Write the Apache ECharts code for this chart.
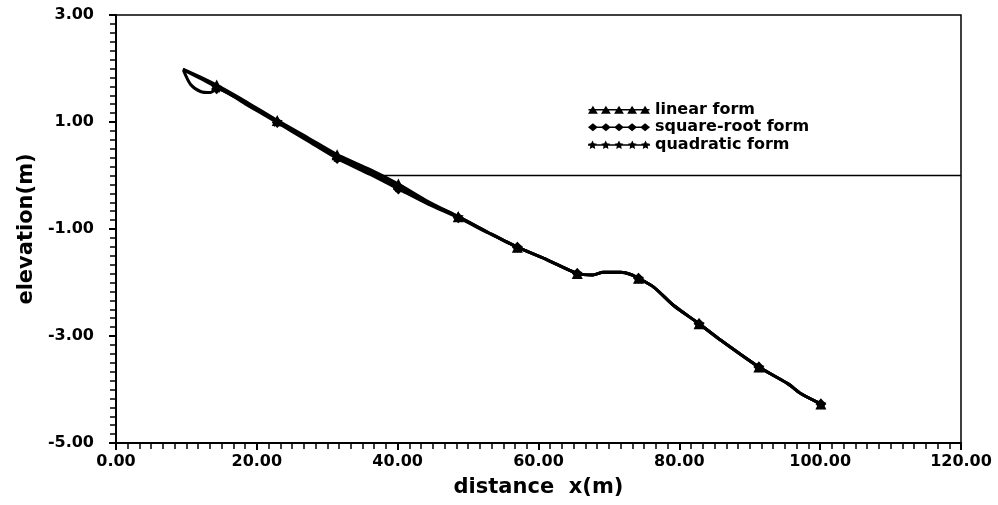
<!DOCTYPE html>
<html>
<head>
<meta charset="utf-8">
<script src="https://cdn.jsdelivr.net/npm/echarts@6/dist/echarts.min.js"></script>
<style>html,body{margin:0;padding:0;background:#fff;}#chart{width:998px;height:505px;}</style>
</head>
<body>
<div id="chart"></div>
<script>
// ---- data ----
const seriesNames = ['linear form', 'square-root form', 'quadratic form'];
const xTicks = [0, 20, 40, 60, 80, 100, 120];
const yTicks = [-5, -3, -1, 1, 3];
const markerX = [14.3, 22.9, 31.4, 40.1, 48.6, 57.0, 65.5, 74.2, 82.8, 91.3, 100.1];

const linearX = [9.5, 12.0, 14.3, 18.6, 22.9, 27.2, 31.4, 36.1, 40.1, 44.4, 48.6, 52.8, 57.0, 61.3, 65.5, 67.7, 69.2, 71.7, 73.1, 74.2, 76.4, 79.2, 82.8, 85.9, 91.3, 95.4, 97.3, 100.1];
const linearY = [1.99, 1.84, 1.69, 1.37, 1.03, 0.71, 0.39, 0.11, -0.16, -0.49, -0.77, -1.06, -1.34, -1.58, -1.83, -1.86, -1.81, -1.81, -1.85, -1.92, -2.09, -2.43, -2.77, -3.08, -3.58, -3.89, -4.08, -4.27];

const sqrtX = [9.6, 10.6, 12.0, 13.4, 14.3, 18.6, 22.9, 27.2, 31.4, 36.1, 40.1, 44.4, 48.6, 52.8, 57.0, 61.3, 65.5, 67.7, 69.2, 71.7, 73.1, 74.2, 76.4, 79.2, 82.8, 85.9, 91.3, 95.4, 97.3, 100.1];
const sqrtY = [1.96, 1.70, 1.57, 1.55, 1.62, 1.32, 0.99, 0.65, 0.32, 0.02, -0.25, -0.54, -0.79, -1.07, -1.34, -1.58, -1.83, -1.86, -1.81, -1.81, -1.85, -1.92, -2.09, -2.43, -2.77, -3.08, -3.58, -3.89, -4.08, -4.27];

const quadX = [9.5, 12.2, 14.3, 18.6, 22.9, 27.2, 31.4, 36.1, 40.1, 44.4, 48.6, 52.8, 57.0, 61.3, 65.5, 67.7, 69.2, 71.7, 73.1, 74.2, 76.4, 79.2, 82.8, 85.9, 91.3, 95.4, 97.3, 100.1];
const quadY = [1.98, 1.80, 1.65, 1.34, 1.01, 0.67, 0.35, 0.06, -0.21, -0.51, -0.77, -1.06, -1.34, -1.58, -1.83, -1.86, -1.81, -1.81, -1.85, -1.92, -2.09, -2.43, -2.77, -3.08, -3.58, -3.89, -4.08, -4.27];

const waterX = [36.8, 120];
const waterY = [0, 0];

// ---- building the chart ----
const zip = (xs, ys) => xs.map((x, i) => [x, ys[i]]);
const markerSet = new Set(markerX);

const starPath = (cx, cy, r) => {
  let d = '';
  for (let i = 0; i < 10; i++) {
    const a = -Math.PI / 2 + i * Math.PI / 5;
    const rr = i % 2 === 0 ? r : r * 0.5;
    d += (i === 0 ? 'M' : 'L') + (cx + rr * Math.cos(a)).toFixed(1) + ' ' + (cy + rr * Math.sin(a)).toFixed(1);
  }
  return d + 'Z';
};
const centers = [45, 177, 310, 443, 575];
const rowIcon = (shape) => 'path://M0 32L620 32L620 48L0 48Z' + centers.map(shape).join('');
const triShape = cx => `M${cx - 50} 80L${cx} 0L${cx + 50} 80Z`;
const diaShape = cx => `M${cx - 50} 40L${cx} 0L${cx + 50} 40L${cx} 80Z`;
const starShape = cx => starPath(cx, 42, 46);
const starSymbol = 'path://' + starPath(50, 50, 50);

const font = 'DejaVu Sans';
const symSize = (v) => markerSet.has(v[0]) ? 11 : 0;

function lineSeries(name, pts, symbol) {
  return {
    name, type: 'line', data: pts, smooth: 0.25,
    symbol, symbolSize: symSize, showSymbol: true, showAllSymbol: true,
    itemStyle: { color: '#000' },
    lineStyle: { color: '#000', width: 3 },
    z: 3
  };
}

const chart = echarts.init(document.getElementById('chart'), null, { renderer: 'canvas' });
chart.setOption({
  animation: false,
  backgroundColor: '#fff',
  grid: { left: 116, right: 37, top: 15, bottom: 62, show: true, borderColor: '#000', borderWidth: 1.5, backgroundColor: 'transparent' },
  legend: {
    left: 583, top: 96, orient: 'vertical', itemWidth: 62, itemHeight: 10, itemGap: 0,
    textStyle: { fontFamily: font, fontWeight: 'bold', fontSize: 16, color: '#000', lineHeight: 17.5 },
    data: [
      { name: seriesNames[0], icon: rowIcon(triShape) },
      { name: seriesNames[1], icon: rowIcon(diaShape) },
      { name: seriesNames[2], icon: rowIcon(starShape) }
    ]
  },
  xAxis: {
    type: 'value', min: xTicks[0], max: xTicks[xTicks.length - 1], interval: xTicks[1] - xTicks[0],
    name: 'distance  x(m)', nameLocation: 'middle', nameGap: 34,
    nameTextStyle: { fontFamily: font, fontWeight: 'bold', fontSize: 21, color: '#000' },
    axisLine: { show: true, onZero: false, lineStyle: { color: '#000', width: 2 } },
    axisTick: { show: true, length: 7, lineStyle: { color: '#000', width: 2 } },
    minorTick: { show: true, splitNumber: 12, length: 6, lineStyle: { color: '#000', width: 1.5 } },
    splitLine: { show: false },
    axisLabel: { margin: 11, fontFamily: font, fontWeight: 'bold', fontSize: 16, color: '#000', formatter: v => v.toFixed(2) }
  },
  yAxis: {
    type: 'value', min: yTicks[0], max: yTicks[yTicks.length - 1], interval: yTicks[1] - yTicks[0],
    name: 'elevation(m)', nameLocation: 'middle', nameGap: 77,
    nameTextStyle: { fontFamily: font, fontWeight: 'bold', fontSize: 21, color: '#000' },
    axisLine: { show: true, onZero: false, lineStyle: { color: '#000', width: 2 } },
    axisTick: { show: true, length: 7, lineStyle: { color: '#000', width: 2 } },
    minorTick: { show: true, splitNumber: 12, length: 6, lineStyle: { color: '#000', width: 1.5 } },
    splitLine: { show: false },
    axisLabel: { margin: 22, fontFamily: font, fontWeight: 'bold', fontSize: 16, color: '#000', formatter: v => v.toFixed(2) }
  },
  series: [
    lineSeries(seriesNames[0], zip(linearX, linearY), 'triangle'),
    lineSeries(seriesNames[1], zip(sqrtX, sqrtY), 'diamond'),
    lineSeries(seriesNames[2], zip(quadX, quadY), starSymbol),
    {
      name: 'water level', type: 'line', data: zip(waterX, waterY), symbol: 'none',
      lineStyle: { color: '#000', width: 1.5 }, z: 2, legendHoverLink: false
    }
  ]
});
</script>
</body>
</html>
